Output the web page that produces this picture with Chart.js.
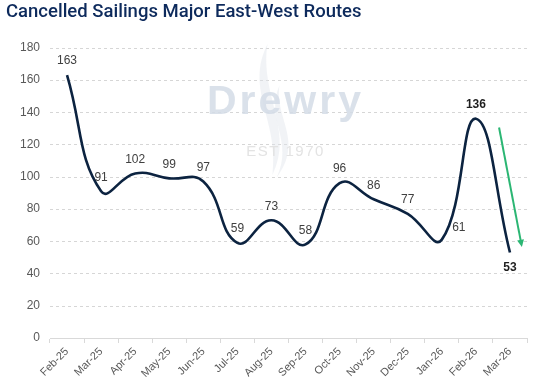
<!DOCTYPE html>
<html>
<head>
<meta charset="utf-8">
<script src="https://cdn.jsdelivr.net/npm/chart.js@4/dist/chart.umd.min.js"></script>
<style>
  html, body { margin: 0; padding: 0; background: #ffffff; }
  #wrap { width: 560px; height: 384px; }
</style>
</head>
<body>
<div id="wrap"><canvas id="c" width="560" height="384"></canvas></div>
<script>
const TITLE = 'Cancelled Sailings Major East-West Routes';
const categories = ['Feb-25','Mar-25','Apr-25','May-25','Jun-25','Jul-25','Aug-25','Sep-25','Oct-25','Nov-25','Dec-25','Jan-26','Feb-26','Mar-26'];
const cancelledSailings = [163, 91, 102, 99, 97, 59, 73, 58, 96, 86, 77, 61, 136, 53];
const yTicks = [0, 20, 40, 60, 80, 100, 120, 140, 160, 180];
const boldLabels = ['Feb-26', 'Mar-26'];
// trend arrow endpoints in data space (category index, value)
const arrowFrom = [12.68, 130.5];
const arrowTo = [13.35, 56.5];

const FONT = "'Liberation Sans', Arial, sans-serif";

const dashedGrid = {
  id: 'dashedGrid',
  beforeDatasetsDraw(chart) {
    const ctx = chart.ctx;
    const a = chart.chartArea;
    const ys = chart.scales.y;
    ctx.save();
    ctx.strokeStyle = '#d6d6d6';
    ctx.lineWidth = 1;
    ctx.setLineDash([3, 3]);
    ys.ticks.forEach(t => {
      if (t.value === 0) return;
      const y = Math.round(ys.getPixelForValue(t.value)) + 0.5;
      ctx.beginPath();
      ctx.moveTo(a.left, y);
      ctx.lineTo(a.right, y);
      ctx.stroke();
    });
    ctx.restore();
  }
};

const watermark = {
  id: 'watermark',
  beforeDatasetsDraw(chart) {
    const ctx = chart.ctx;
    const a = chart.chartArea;
    const cx = (a.left + a.right) / 2 - 4;
    ctx.save();
    // faint flame
    ctx.fillStyle = 'rgba(225,229,235,0.45)';
    ctx.beginPath();
    ctx.moveTo(cx - 17, 44);
    ctx.bezierCurveTo(cx - 40, 90, cx - 5, 120, cx - 12, 175);
    ctx.bezierCurveTo(cx + 10, 130, cx - 25, 95, cx - 17, 44);
    ctx.fill();
    ctx.beginPath();
    ctx.moveTo(cx - 5, 85);
    ctx.bezierCurveTo(cx - 20, 120, cx + 10, 140, cx - 8, 178);
    ctx.bezierCurveTo(cx + 20, 140, cx - 10, 120, cx - 5, 85);
    ctx.fill();
    ctx.textAlign = 'center';
    ctx.textBaseline = 'alphabetic';
    ctx.fillStyle = 'rgba(212,220,230,0.85)';
    ctx.font = "bold 41px " + FONT;
    try { ctx.letterSpacing = '3px'; } catch (e) {}
    ctx.fillText('Drewry', cx + 1, 114);
    ctx.fillStyle = 'rgba(224,224,224,0.9)';
    ctx.font = "15px " + FONT;
    try { ctx.letterSpacing = '1.5px'; } catch (e) {}
    ctx.fillText('EST 1970', cx + 1, 156);
    try { ctx.letterSpacing = '0px'; } catch (e) {}
    ctx.restore();
  }
};

const labelsAndArrow = {
  id: 'labelsAndArrow',
  afterDatasetsDraw(chart) {
    const ctx = chart.ctx;
    const meta = chart.getDatasetMeta(0);
    const xs = chart.scales.x, ys = chart.scales.y;
    ctx.save();
    ctx.textAlign = 'center';
    ctx.textBaseline = 'middle';
    meta.data.forEach((pt, i) => {
      const cat = categories[i];
      const bold = boldLabels.includes(cat);
      ctx.font = (bold ? 'bold ' : '') + '12px ' + FONT;
      ctx.fillStyle = bold ? '#1e1e1e' : '#404040';
      let dx = 0, dy = -14;
      if (i === categories.length - 1) dy = 15;
      if (cat === 'Jan-26') { dx = 17; dy = -12; }
      ctx.fillText(String(cancelledSailings[i]), pt.x + dx, pt.y + dy);
    });
    // trend arrow
    const x1 = xs.getPixelForValue(arrowFrom[0]), y1 = ys.getPixelForValue(arrowFrom[1]);
    const x2 = xs.getPixelForValue(arrowTo[0]), y2 = ys.getPixelForValue(arrowTo[1]);
    const ang = Math.atan2(y2 - y1, x2 - x1);
    const head = 8;
    ctx.strokeStyle = '#2bb673';
    ctx.fillStyle = '#2bb673';
    ctx.lineWidth = 2;
    ctx.beginPath();
    ctx.moveTo(x1, y1);
    ctx.lineTo(x2 - Math.cos(ang) * head * 0.8, y2 - Math.sin(ang) * head * 0.8);
    ctx.stroke();
    ctx.beginPath();
    ctx.moveTo(x2, y2);
    ctx.lineTo(x2 - head * Math.cos(ang - 0.45), y2 - head * Math.sin(ang - 0.45));
    ctx.lineTo(x2 - head * Math.cos(ang + 0.45), y2 - head * Math.sin(ang + 0.45));
    ctx.closePath();
    ctx.fill();
    ctx.restore();
  }
};

new Chart(document.getElementById('c'), {
  type: 'line',
  data: {
    labels: categories,
    datasets: [{
      data: cancelledSailings,
      borderColor: '#0c2340',
      borderWidth: 2.6,
      pointRadius: 0,
      tension: 0.45,
      fill: false
    }]
  },
  options: {
    responsive: false,
    animation: false,
    layout: { padding: { left: 6, right: 33, top: 0, bottom: 0 } },
    plugins: {
      legend: { display: false },
      tooltip: { enabled: false },
      title: {
        display: true,
        text: TITLE,
        align: 'start',
        color: '#0d2a5c',
        font: { family: "Roboto, 'Liberation Sans', sans-serif", size: 18.5, weight: '500' },
        padding: { top: 1.5, bottom: 24 }
      }
    },
    scales: {
      x: {
        offset: true,
        grid: { offset: true, drawOnChartArea: false, drawTicks: true, tickLength: 5, color: '#d9d9d9' },
        border: { display: true, color: '#d9d9d9', width: 1 },
        ticks: {
          color: '#595959',
          font: { family: FONT, size: 11 },
          maxRotation: 45, minRotation: 45,
          padding: 2,
          autoSkip: false
        },
        afterFit(s) { s.height = 46; }
      },
      y: {
        min: yTicks[0],
        max: yTicks[yTicks.length - 1],
        afterBuildTicks(s) { s.ticks = yTicks.map(v => ({ value: v })); },
        grid: { display: false, drawTicks: false },
        border: { display: false },
        ticks: {
          color: '#595959',
          font: { family: FONT, size: 12 },
          padding: 10
        },
        afterFit(s) { s.width = 44; }
      }
    }
  },
  plugins: [dashedGrid, watermark, labelsAndArrow]
});
</script>
</body>
</html>
